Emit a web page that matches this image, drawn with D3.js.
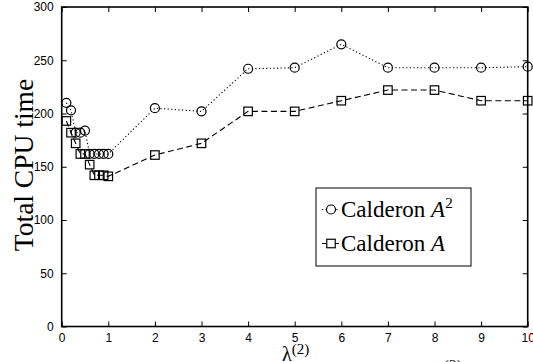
<!DOCTYPE html>
<html>
<head>
<meta charset="utf-8">
<script src="https://cdn.jsdelivr.net/npm/d3@7"></script>
<style>
  html, body { margin: 0; padding: 0; background: #fff; overflow: hidden; }
  svg { display: block; }
</style>
</head>
<body>
<svg id="chart" width="533" height="362"></svg>
<script>
// Regularisation parameter values
const lambdaValues = [0.1, 0.2, 0.3, 0.4, 0.5, 0.6, 0.7, 0.8, 0.9, 1.0, 2, 3, 4, 5, 6, 7, 8, 9, 10];
// Total CPU time for each preconditioner
const calderonA2 = [210, 203, 182, 182, 184, 162, 162, 162, 162, 162, 205, 202, 242, 243, 265, 243, 243, 243, 244];
const calderonA  = [193, 182, 172, 162, 162, 152, 142, 142, 142, 141, 161, 172, 202, 202, 212, 222, 222, 212, 212];
const xTicks = [0, 1, 2, 3, 4, 5, 6, 7, 8, 9, 10];
const yTicks = [0, 50, 100, 150, 200, 250, 300];

const svg = d3.select("#chart");
const plotLeft = 61.7, plotRight = 527.7, plotTop = 7, plotBottom = 326.5;
const x = d3.scaleLinear().domain([0, 10]).range([plotLeft, plotRight]);
const y = d3.scaleLinear().domain([0, 300]).range([plotBottom, plotTop]);

const sans = "'Liberation Sans', Arial, sans-serif";
const serif = "'Liberation Serif', 'Times New Roman', serif";

// Axes with inward ticks on all four sides
const tickLen = 5;
const ax = svg.append("g");
ax.append("g").attr("transform", `translate(0,${plotBottom})`)
  .call(d3.axisBottom(x).tickValues(xTicks).tickSize(-tickLen).tickPadding(7).tickFormat(d3.format("d")));
ax.append("g").attr("transform", `translate(0,${plotTop})`)
  .call(d3.axisTop(x).tickValues(xTicks).tickSize(-tickLen).tickFormat(""));
ax.append("g").attr("transform", `translate(${plotLeft},0)`)
  .call(d3.axisLeft(y).tickValues(yTicks).tickSize(-tickLen).tickPadding(8).tickFormat(d3.format("d")));
ax.append("g").attr("transform", `translate(${plotRight},0)`)
  .call(d3.axisRight(y).tickValues(yTicks).tickSize(-tickLen).tickFormat(""));
ax.selectAll(".domain").remove();
ax.selectAll(".tick line").attr("stroke", "#000").attr("stroke-width", 1);
ax.selectAll(".tick text").attr("fill", "#000").style("font-family", sans).style("font-size", "12px");
ax.append("rect").attr("x", plotLeft).attr("y", plotTop)
  .attr("width", plotRight - plotLeft).attr("height", plotBottom - plotTop)
  .attr("fill", "none").attr("stroke", "#000").attr("stroke-width", 1.6);

// Series
const seriesA2 = lambdaValues.map((d, i) => [d, calderonA2[i]]);
const seriesA = lambdaValues.map((d, i) => [d, calderonA[i]]);
const line = d3.line().x(d => x(d[0])).y(d => y(d[1]));

svg.append("path").datum(seriesA2).attr("d", line)
  .attr("fill", "none").attr("stroke", "#000").attr("stroke-width", 1.1).attr("stroke-dasharray", "1.2,2.4");
svg.append("path").datum(seriesA).attr("d", line)
  .attr("fill", "none").attr("stroke", "#000").attr("stroke-width", 1.1).attr("stroke-dasharray", "6,3.5");

const sq = 8.5;
svg.append("g").selectAll("rect").data(seriesA).join("rect")
  .attr("x", d => x(d[0]) - sq / 2).attr("y", d => y(d[1]) - sq / 2)
  .attr("width", sq).attr("height", sq)
  .attr("fill", "none").attr("stroke", "#000").attr("stroke-width", 1.2);
svg.append("g").selectAll("circle").data(seriesA2).join("circle")
  .attr("cx", d => x(d[0])).attr("cy", d => y(d[1])).attr("r", 4.5)
  .attr("fill", "none").attr("stroke", "#000").attr("stroke-width", 1.2);

// Axis titles
svg.append("text").attr("transform", "translate(33,165) rotate(-90)")
  .attr("text-anchor", "middle").style("font-family", serif).style("font-size", "27.5px")
  .text("Total CPU time");

const xl = svg.append("text").attr("x", 282).attr("y", 361)
  .style("font-family", serif).style("font-size", "20px");
xl.append("tspan").text("λ");
xl.append("tspan").attr("dy", -7).style("font-size", "15px").text("(2)");

svg.append("text").attr("x", 444).attr("y", 370)
  .style("font-family", serif).style("font-size", "15px").text("(2)");

// Legend
const lg = svg.append("g");
lg.append("rect").attr("x", 316).attr("y", 188).attr("width", 155).attr("height", 78)
  .attr("fill", "#fff").attr("stroke", "#000").attr("stroke-width", 1);
const entries = [
  { name: "Calderon ", sym: "A", sup: "2", dash: "1.2,2.4", shape: "circle", cy: 209.5 },
  { name: "Calderon ", sym: "A", sup: null, dash: "4,2.5", shape: "square", cy: 243.5 }
];
entries.forEach(e => {
  lg.append("line").attr("x1", 322).attr("x2", 340).attr("y1", e.cy).attr("y2", e.cy)
    .attr("stroke", "#000").attr("stroke-width", 1.1).attr("stroke-dasharray", e.dash);
  if (e.shape === "circle") {
    lg.append("circle").attr("cx", 331).attr("cy", e.cy).attr("r", 4.5)
      .attr("fill", "#fff").attr("stroke", "#000").attr("stroke-width", 1.2);
  } else {
    lg.append("rect").attr("x", 331 - sq / 2).attr("y", e.cy - sq / 2).attr("width", sq).attr("height", sq)
      .attr("fill", "#fff").attr("stroke", "#000").attr("stroke-width", 1.2);
  }
  const t = lg.append("text").attr("x", 341).attr("y", e.cy + 7)
    .style("font-family", serif).style("font-size", "23px");
  t.append("tspan").text(e.name);
  t.append("tspan").style("font-style", "italic").text(e.sym);
  if (e.sup) t.append("tspan").attr("dy", -9).style("font-size", "15px").text(e.sup);
});
</script>
</body>
</html>
